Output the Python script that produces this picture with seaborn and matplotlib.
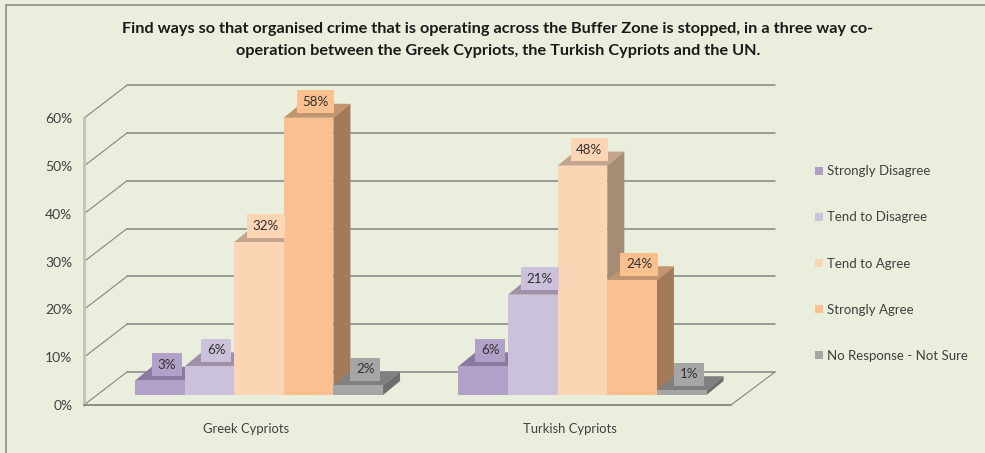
import matplotlib
matplotlib.use("Agg")
import matplotlib.pyplot as plt
import matplotlib.transforms as mtrans
from matplotlib.patches import Polygon, Rectangle
import pandas as pd
import seaborn as sns

# ==================================================
# DATA
# ==================================================

groups = ["Greek Cypriots", "Turkish Cypriots"]
answers = ["Strongly Disagree", "Tend to Disagree", "Tend to Agree",
           "Strongly Agree", "No Response - Not Sure"]
greek_values = [3, 6, 32, 58, 2]
turkish_values = [6, 21, 48, 24, 1]
y_ticks = [0, 10, 20, 30, 40, 50, 60]

title_lines = [
    "Find ways so that organised crime that is operating across the Buffer Zone is stopped, in a three way co-",
    "operation between the Greek Cypriots, the Turkish Cypriots and the UN.",
]

# ==================================================
# STYLE
# ==================================================

face_colors = ["#B1A0C7", "#CCC1DA", "#FCD5B5", "#FAC090", "#A6A6A6"]
top_colors = ["#8B7A9F", "#A091A8", "#C4A68E", "#C09570", "#808080"]
side_colors = ["#7F6F92", "#94879F", "#A58D75", "#A47B59", "#6E6E6E"]

bg_color = "#EAEEDD"
text_color = "#404040"
grid_color = "#858585"

W, H = 985, 453
X0_PX, X1_PX = 259.0, 582.5   # centres of the two groups
Y0_PX = 395.0                 # bar base
PX_PER_UNIT = 4.78
PX_PER_GROUP = X1_PX - X0_PX

sns.set_style("white")
plt.rcParams["font.family"] = ["Lato", "DejaVu Sans"]

fig = plt.figure(figsize=(W / 100, H / 100), dpi=100, facecolor=bg_color)

left = X0_PX - 0.5 * PX_PER_GROUP
top = Y0_PX - 60 * PX_PER_UNIT
ax = fig.add_axes([left / W, 1 - Y0_PX / H, 2 * PX_PER_GROUP / W, (Y0_PX - top) / H])
ax.set_facecolor("none")


def px_x(px):
    return (px - X0_PX) / PX_PER_GROUP


def px_dy(px):
    return px / PX_PER_UNIT


# ==================================================
# BARS
# ==================================================

df = pd.DataFrame({
    "group": [g for g in groups for _ in answers],
    "answer": answers * 2,
    "value": greek_values + turkish_values,
})

sns.barplot(
    data=df,
    x="group",
    y="value",
    hue="answer",
    hue_order=answers,
    palette=face_colors,
    saturation=1,
    width=0.767,
    gap=0,
    linewidth=0,
    ax=ax,
)

ax.set_xlim(-0.5, 1.5)
ax.set_ylim(0, 60)
ax.set_xlabel("")
ax.set_ylabel("")
sns.despine(ax=ax, left=True, bottom=True)

depth_x = 17 / PX_PER_GROUP
depth_y = px_dy(14)

for i, container in enumerate(ax.containers):
    z = 4 + i
    for bar, value in zip(container.patches, container.datavalues):
        x = bar.get_x()
        w = bar.get_width()
        h = bar.get_height()
        bar.set_zorder(z)
        bar.set_clip_on(False)
        ax.add_patch(Polygon(
            [(x, h), (x + w, h), (x + w + depth_x, h + depth_y), (x + depth_x, h + depth_y)],
            facecolor=top_colors[i], edgecolor="none", zorder=z - 0.5, clip_on=False,
        ))
        ax.add_patch(Polygon(
            [(x + w, 0), (x + w + depth_x, depth_y), (x + w + depth_x, h + depth_y), (x + w, h)],
            facecolor=side_colors[i], edgecolor="none", zorder=z - 0.5, clip_on=False,
        ))
        ax.annotate(
            f"{value:.0f}%",
            xy=(x + w / 2, h),
            xytext=(5, 11.5),
            textcoords="offset points",
            ha="center",
            va="center",
            fontsize=9.6,
            color="#303030",
            zorder=20,
            annotation_clip=False,
            bbox=dict(boxstyle="square,pad=0.42", facecolor=face_colors[i], edgecolor="none"),
        )

# ==================================================
# WALLS AND FLOOR
# ==================================================

front_l, front_r = px_x(84), px_x(731)
back_l, back_r = px_x(127), px_x(775)
front_dy, back_dy = px_dy(-10), px_dy(23)

for tick in y_ticks:
    ax.plot([front_l, back_l], [tick + front_dy, tick + back_dy],
            color=grid_color, lw=0.8, clip_on=False, zorder=1)
    ax.plot([back_l, back_r], [tick + back_dy, tick + back_dy],
            color=grid_color, lw=1.1, clip_on=False, zorder=1)

ax.plot([front_l, front_l], [y_ticks[0] + front_dy, y_ticks[-1] + front_dy],
        color="#C0C4B6", lw=2, clip_on=False, zorder=1)
ax.plot([front_l, front_r], [front_dy, front_dy],
        color=grid_color, lw=1.3, clip_on=False, zorder=2)
ax.plot([front_r, back_r], [front_dy, back_dy],
        color=grid_color, lw=0.8, clip_on=False, zorder=1)

# ==================================================
# TICK LABELS
# ==================================================

ax.set_yticks(y_ticks)
ax.set_yticklabels([f"{t}%" for t in y_ticks])
ax.tick_params(axis="y", length=0, pad=18, labelsize=10, labelcolor=text_color)
ax.tick_params(axis="x", length=0, pad=20, labelsize=9.4, labelcolor=text_color)

y_shift = mtrans.ScaledTranslation(0, -10 / 100, fig.dpi_scale_trans)
for label in ax.get_yticklabels():
    label.set_transform(label.get_transform() + y_shift)

x_shift = mtrans.ScaledTranslation(-13 / 100, 0, fig.dpi_scale_trans)
for label in ax.get_xticklabels():
    label.set_transform(label.get_transform() + x_shift)

# ==================================================
# LEGEND
# ==================================================

handles, labels = ax.get_legend_handles_labels()
ax.legend(
    handles,
    labels,
    loc="center left",
    bbox_to_anchor=(815 / W, 1 - 263.5 / H),
    bbox_transform=fig.transFigure,
    frameon=False,
    borderpad=0,
    borderaxespad=0,
    fontsize=9.5,
    labelcolor=text_color,
    labelspacing=2.58,
    handlelength=0.6,
    handleheight=0.6,
    handletextpad=0.3,
)

# ==================================================
# TITLE AND FRAME
# ==================================================

for line, y_px in zip(title_lines, [29, 51]):
    fig.text(498 / W, 1 - y_px / H, line, ha="center", va="center",
             fontsize=11.7, fontweight="bold", color="#1A1A1A")

fig.add_artist(Rectangle((5.5 / W, -0.1), 1.2, 1 - 5.5 / H + 0.1,
                         transform=fig.transFigure, facecolor="none",
                         edgecolor="#959595", lw=1.3))

fig.savefig("out.png", dpi=100, facecolor=bg_color)
